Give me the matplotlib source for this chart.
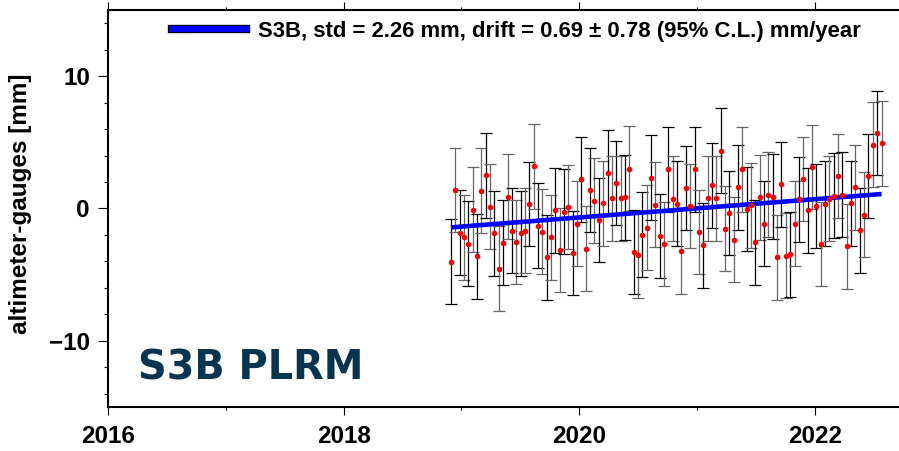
import numpy as np
import matplotlib
matplotlib.use("Agg")
import matplotlib.pyplot as plt
import matplotlib.patheffects as pe
from matplotlib.lines import Line2D
from matplotlib.ticker import MultipleLocator

# altimeter minus tide gauge differences, one value per S3B half-cycle [mm]
first_epoch = 2018.911
cycle_days = 13.48
diff_mm = [
    -4.02, 1.39, -1.82, -2.17, -2.65, -0.10, -3.61, 1.34, 2.50, 0.13,
    -1.89, -4.55, -2.58, 0.88, -1.67, -2.53, -1.89, -1.67, 0.33, 3.18,
    -1.31, -1.74, -3.69, -2.17, -0.13, -3.13, -0.23, 0.10, -3.36, -1.14,
    2.20, -3.03, 1.39, 0.58, -0.88, 0.40, 2.70, 0.78, 1.92, 0.78,
    0.83, 3.00, -3.28, -3.54, -1.97, -1.44, 2.32, 0.28, -2.07, -2.68,
    2.95, 0.73, 0.35, -3.23, 1.54, 0.18, 2.95, -1.77, -2.78, 0.76,
    1.74, 0.78, 4.37, -1.52, -0.35, -2.37, 1.59, 2.95, -0.05, 0.23,
    -2.55, 0.83, -1.16, 1.04, 0.88, -3.69, 1.82, -3.56, -3.46, -1.14,
    0.68, 2.22, -0.15, 3.13, 0.18, -2.68, 0.35, 0.73, 0.96, 2.45,
    1.04, -2.86, 0.40, 1.59, -1.64, -0.48, 2.45, 4.83, 5.71, 4.92,
]
err_mm = 3.2
trend_start = -1.43
drift = 0.69  # mm/year
legend_text = "S3B, std = 2.26 mm, drift = 0.69 \u00b1 0.78 (95% C.L.) mm/year"
mission_label = "S3B PLRM"

years = first_epoch + np.arange(len(diff_mm)) * cycle_days / 365.25
values = np.array(diff_mm)

plt.rcParams['font.family'] = ['Liberation Sans', 'DejaVu Sans']
plt.rcParams['font.weight'] = 'bold'

fig = plt.figure(figsize=(8.99, 4.51), dpi=100)
ax = fig.add_axes([0.1201, 0.0976, 0.9175, 0.8803])

# error bars, alternating shades as in the original
for i in range(len(values)):
    col = 'black' if i % 2 == 0 else '#666666'
    ax.errorbar(years[i], values[i], yerr=err_mm, fmt='none', ecolor=col,
                elinewidth=0.9, capsize=4.3, capthick=0.9, zorder=2)

trend_x = np.array([years[0], years[-1]])
trend_y = trend_start + drift * (trend_x - years[0])
ax.plot(trend_x, trend_y, color='blue', lw=3.3, zorder=3, solid_capstyle='butt')
ax.plot(years, values, 'o', color='red', ms=4, mec='none', zorder=4)

ax.set_xlim(2016, 2023)
ax.set_ylim(-15, 15)
ax.xaxis.set_major_locator(MultipleLocator(2))
ax.xaxis.set_minor_locator(MultipleLocator(1))
ax.yaxis.set_major_locator(MultipleLocator(10))
ax.yaxis.set_minor_locator(MultipleLocator(2))
ax.tick_params(which='both', direction='out', top=True, width=0.8)
ax.tick_params(axis='x', which='major', length=6, pad=7, labelsize=17.5)
ax.tick_params(axis='x', which='minor', length=2.5)
ax.tick_params(axis='y', which='major', length=7, pad=6, labelsize=17.5)
ax.tick_params(axis='y', which='minor', length=3)
for sp in ax.spines.values():
    sp.set_linewidth(1.5)

ax.set_ylabel('altimeter-gauges [mm]', fontsize=17.5, fontweight='bold')
ax.yaxis.set_label_coords(-0.092, 0.511)

handle = Line2D([], [], color='blue', lw=4.5,
                path_effects=[pe.Stroke(linewidth=6, foreground='black'), pe.Normal()])
ax.legend([handle], [legend_text], loc='upper left', bbox_to_anchor=(0.078, 0.972),
          frameon=False, borderpad=0, borderaxespad=0, handlelength=3.35,
          handletextpad=0.55, prop={'weight': 'bold', 'size': 15.9})

ax.text(0.036, 0.068, mission_label, transform=ax.transAxes, fontsize=28.7,
        fontweight='bold', family='DejaVu Sans', color='#07354f', va='baseline')

fig.savefig('out.png', dpi=100)
